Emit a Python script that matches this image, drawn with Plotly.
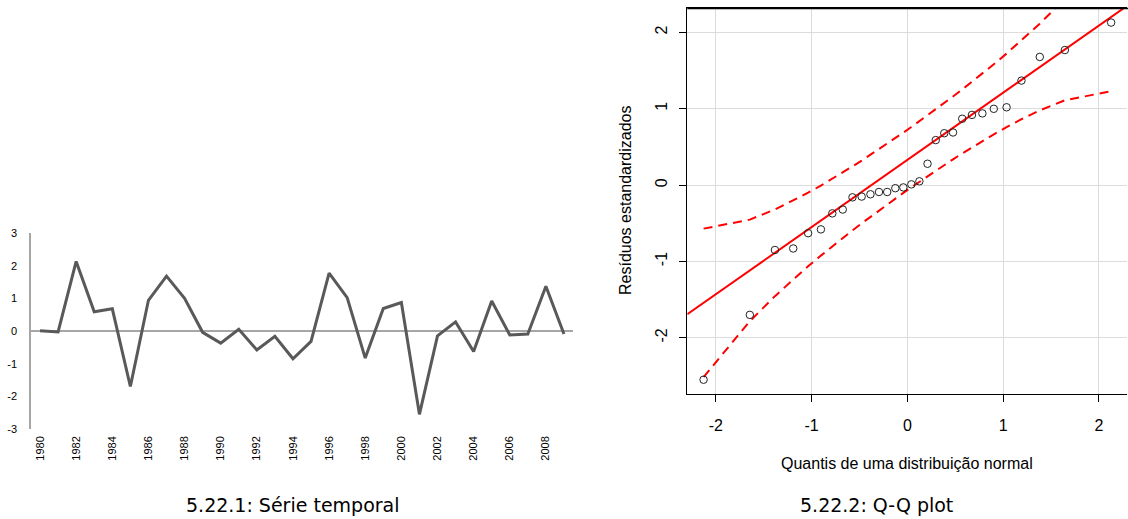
import math
from statistics import NormalDist

import plotly.graph_objects as go

# Annual standardized residuals, 1980-2009
years = list(range(1980, 2010))
residuals = [0.01, -0.03, 2.13, 0.59, 0.68, -1.70, 0.94, 1.68, 1.00, -0.04,
             -0.37, 0.05, -0.58, -0.16, -0.85, -0.32, 1.77, 1.02, -0.83, 0.69,
             0.87, -2.55, -0.15, 0.28, -0.63, 0.92, -0.12, -0.09, 1.37, -0.09]

ts_year_ticks = list(range(1980, 2010, 2))
ts_y_ticks = [-3, -2, -1, 0, 1, 2, 3]
qq_ticks = [-2, -1, 0, 1, 2]

# Reference line of the Q-Q plot (intercept, slope)
fit_intercept = 0.33
fit_slope = 0.88

# Q-Q coordinates: theoretical normal quantiles vs ordered residuals
nd = NormalDist()
n = len(residuals)
probs = [(i + 0.5) / n for i in range(n)]
theo = [nd.inv_cdf(p) for p in probs]
ordered = sorted(residuals)
fitted = [fit_intercept + fit_slope * z for z in theo]
se = [fit_slope / nd.pdf(z) * math.sqrt(p * (1 - p) / n) for z, p in zip(theo, probs)]
upper = [f + 1.96 * s for f, s in zip(fitted, se)]
lower = [f - 1.96 * s for f, s in zip(fitted, se)]

W, H = 1128, 519
def px_x(v):
    return v / W
def px_y(v):
    return 1 - v / H

xr = [-2.298, 2.298]
yr = [-2.737, 2.317]

fig = go.Figure()

# Time series
fig.add_trace(go.Scatter(
    x=years, y=residuals, mode="lines",
    line=dict(color="#595959", width=3),
    xaxis="x", yaxis="y", showlegend=False, hoverinfo="skip"))

# Q-Q: reference line
fig.add_trace(go.Scatter(
    x=xr, y=[fit_intercept + fit_slope * v for v in xr], mode="lines",
    line=dict(color="#ff0000", width=2),
    xaxis="x2", yaxis="y2", showlegend=False, hoverinfo="skip"))
# Q-Q: confidence envelope
for band in (upper, lower):
    fig.add_trace(go.Scatter(
        x=theo, y=band, mode="lines",
        line=dict(color="#ff0000", width=2, dash="9px,6px"),
        xaxis="x2", yaxis="y2", showlegend=False, hoverinfo="skip"))
# Q-Q: points
fig.add_trace(go.Scatter(
    x=theo, y=ordered, mode="markers",
    marker=dict(symbol="circle-open", size=7.5, color="#222222", line=dict(width=1)),
    xaxis="x2", yaxis="y2", showlegend=False, hoverinfo="skip", cliponaxis=False))

small = dict(family="Liberation Sans, Arial, sans-serif", size=11, color="#000000")
rfont = dict(family="Liberation Sans, Arial, sans-serif", size=16, color="#000000")
capfont = dict(family="DejaVu Sans", size=19, color="#000000")

fig.update_layout(
    width=W, height=H,
    margin=dict(l=0, r=0, t=0, b=0, pad=0, autoexpand=False),
    paper_bgcolor="white", plot_bgcolor="white",
    xaxis=dict(
        domain=[px_x(31), px_x(573)], range=[1979.5, 2009.5],
        tickvals=ts_year_ticks, ticktext=[str(y) for y in ts_year_ticks],
        tickangle=-90, tickfont=small, showgrid=False, zeroline=False,
        showline=False, ticks="", ticklabelstandoff=4, anchor="y",
        automargin=False, fixedrange=True),
    yaxis=dict(
        domain=[px_y(429), px_y(233)], range=[-3, 3],
        tickvals=ts_y_ticks, ticktext=[str(v) for v in ts_y_ticks],
        tickfont=small, showgrid=False, zeroline=True,
        zerolinecolor="#a6a6a6", zerolinewidth=1.5,
        showline=True, linecolor="#a6a6a6", linewidth=1.5,
        ticks="", ticklabelstandoff=10, anchor="x",
        automargin=False, fixedrange=True),
    xaxis2=dict(
        domain=[px_x(687.3), px_x(1127.4)], range=xr,
        tickvals=qq_ticks, ticktext=[str(v) for v in qq_ticks],
        tickfont=rfont, showgrid=True, gridcolor="#dcdcdc", gridwidth=1,
        zeroline=False, showline=True, mirror=True, linecolor="#000000", linewidth=1.2,
        ticks="outside", ticklen=7, tickcolor="#000000",
        ticklabelstandoff=10, anchor="y2", automargin=False, fixedrange=True),
    yaxis2=dict(
        domain=[px_y(394), px_y(8.3)], range=yr,
        tickvals=qq_ticks, ticktext=[str(v) for v in qq_ticks],
        tickfont=rfont, tickangle=-90, showgrid=True, gridcolor="#dcdcdc", gridwidth=1,
        zeroline=False, showline=True, linecolor="#000000", linewidth=1.2,
        ticks="outside", ticklen=7, tickcolor="#000000",
        ticklabelstandoff=6, anchor="x2", automargin=False, fixedrange=True),
    shapes=[dict(type="line", xref="paper", yref="paper", layer="above",
                 x0=px_x(687.3), x1=1, y0=px_y(8.5), y1=px_y(8.5),
                 line=dict(color="#000000", width=1.5))],
    annotations=[
        dict(text="Quantis de uma distribuição normal", x=px_x(907), y=px_y(463),
             xref="paper", yref="paper", showarrow=False, font=rfont,
             xanchor="center", yanchor="middle"),
        dict(text="Resíduos estandardizados", x=px_x(625), y=px_y(201),
             xref="paper", yref="paper", showarrow=False, font=rfont, textangle=-90,
             xanchor="center", yanchor="middle"),
        dict(text="5.22.1: Série temporal", x=px_x(292.5), y=px_y(505),
             xref="paper", yref="paper", showarrow=False, font=capfont,
             xanchor="center", yanchor="middle"),
        dict(text="5.22.2: Q-Q plot", x=px_x(876), y=px_y(505),
             xref="paper", yref="paper", showarrow=False, font=capfont,
             xanchor="center", yanchor="middle"),
    ],
)

fig.write_html("out.html")
